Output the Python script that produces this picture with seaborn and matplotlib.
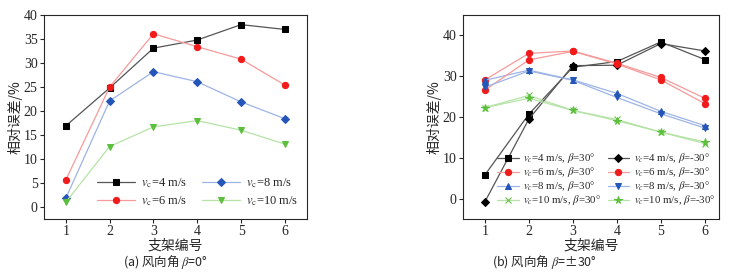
import numpy as np
import pandas as pd
import seaborn as sns
import matplotlib.pyplot as plt

support = [1, 2, 3, 4, 5, 6]

# (a) beta = 0
a_v4 = [16.9, 24.8, 33.1, 34.8, 38.0, 37.0]
a_v6 = [5.6, 25.0, 36.1, 33.4, 30.8, 25.4]
a_v8 = [1.8, 22.1, 28.2, 26.1, 21.9, 18.4]
a_v10 = [1.0, 12.6, 16.7, 18.0, 16.0, 13.1]

# (b) beta = +/-30
b_v4_p = [5.8, 20.7, 32.2, 33.6, 38.4, 34.1]
b_v4_m = [-0.8, 19.5, 32.6, 32.7, 38.0, 36.2]
b_v6_p = [29.1, 35.6, 36.2, 33.2, 29.7, 24.6]
b_v6_m = [26.6, 34.0, 36.1, 33.0, 29.1, 23.3]
b_v8_p = [29.0, 31.5, 29.1, 25.8, 21.4, 17.9]
b_v8_m = [27.3, 31.3, 29.0, 24.8, 20.8, 17.3]
b_v10_p = [22.3, 25.3, 21.6, 19.4, 16.3, 13.5]
b_v10_m = [22.3, 24.6, 21.6, 19.1, 16.3, 13.9]

sns.set_theme(style="ticks")
plt.rcParams['font.family'] = ['Liberation Serif', 'Noto Sans CJK SC']
plt.rcParams['mathtext.fontset'] = 'stix'
plt.rcParams['axes.unicode_minus'] = False

cn = ['Noto Sans CJK SC', 'Liberation Serif']

fig = plt.figure(figsize=(7.43, 2.76), dpi=100)
ax1 = fig.add_axes([0.059, 0.2065, 0.354, 0.739])
ax2 = fig.add_axes([0.623, 0.2065, 0.3445, 0.739])

black, red, blue, green = '#000000', '#f21b1b', '#2455b8', '#5cbf3c'
light = {black: '#555555', red: '#f79a9a', blue: '#9db4e6', green: '#b5e3a6'}


def draw(ax, y, label, color, marker, ms=4.5):
    df = pd.DataFrame({'x': support, 'y': y})
    sns.lineplot(data=df, x='x', y='y', ax=ax, color=light[color], lw=0.9,
                 marker=marker, markersize=ms, markerfacecolor=color,
                 markeredgecolor=color, label=label)


draw(ax1, a_v4, r'$v_\mathrm{c}$=4 m/s', black, 's')
draw(ax1, a_v6, r'$v_\mathrm{c}$=6 m/s', red, 'o')
draw(ax1, a_v8, r'$v_\mathrm{c}$=8 m/s', blue, 'D', 4)
draw(ax1, a_v10, r'$v_\mathrm{c}$=10 m/s', green, 'v')
ax1.legend(ncol=2, frameon=False,
           loc='lower right', bbox_to_anchor=(1.01, 0.0), fontsize=9,
           handlelength=3.0, columnspacing=1.2, handletextpad=0.5,
           labelspacing=0.3)
ax1.set_xlim(0.5, 6.5)
ax1.set_ylim(-2.5, 40)
ax1.set_yticks(np.arange(0, 41, 5))

draw(ax2, b_v4_p, r'$v_c$=4 m/s, $\beta$=30°', black, 's')
draw(ax2, b_v6_p, r'$v_c$=6 m/s, $\beta$=30°', red, 'o')
draw(ax2, b_v8_p, r'$v_c$=8 m/s, $\beta$=30°', blue, '^')
draw(ax2, b_v10_p, r'$v_c$=10 m/s, $\beta$=30°', green, 'x')
draw(ax2, b_v4_m, r'$v_c$=4 m/s, $\beta$=-30°', black, 'D', 4)
draw(ax2, b_v6_m, r'$v_c$=6 m/s, $\beta$=-30°', red, 'o')
draw(ax2, b_v8_m, r'$v_c$=8 m/s, $\beta$=-30°', blue, 'v')
draw(ax2, b_v10_m, r'$v_c$=10 m/s, $\beta$=-30°', green, '*', 5.5)
ax2.legend(ncol=2, frameon=False, loc='lower right', bbox_to_anchor=(1.015, 0.02),
           fontsize=7.8, handlelength=2.0, columnspacing=0.6, handletextpad=0.4,
           labelspacing=0.0, borderaxespad=0.3)
ax2.set_xlim(0.5, 6.32)
ax2.set_ylim(-5, 45)
ax2.set_yticks([0, 10, 20, 30, 40])

for ax in (ax1, ax2):
    ax.set_xticks(support)
    ax.set_xlabel('支架编号', family=cn, fontsize=10, labelpad=0)
    ax.set_ylabel('相对误差/%', family=cn, fontsize=10, labelpad=1)
    ax.tick_params(labelsize=10, length=3, width=0.8, direction='out', pad=1.5)
    for s in ax.spines.values():
        s.set_linewidth(0.8)
        s.set_visible(True)

fig.text(0.222, 0.05, '(a) 风向角 $\\beta$=0°', family=cn, fontsize=9,
         ha='center', va='center')
fig.text(0.733, 0.05, '(b) 风向角 $\\beta$=±30°', family=cn, fontsize=9,
         ha='center', va='center')

fig.savefig('out.png', dpi=100)
